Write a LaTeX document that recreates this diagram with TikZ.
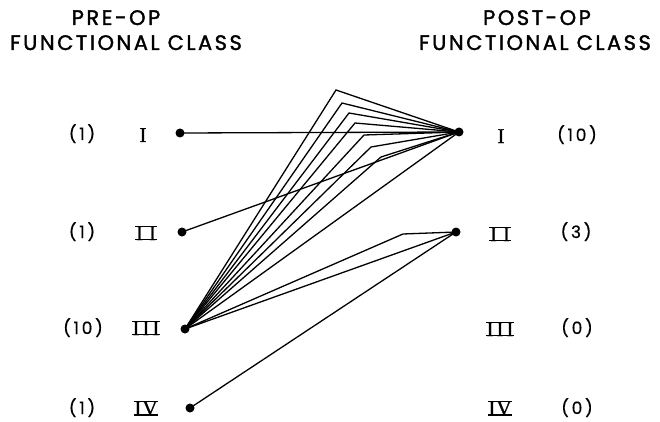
\documentclass[tikz,border=0pt]{standalone}
\usepackage{fontspec}
\setmainfont{Liberation Serif}
\newfontfamily\romfont{Liberation Serif}[FakeBold=1]
\newfontfamily\hdrfont{Poppins}[LetterSpace=12,FakeBold=1.6]
\newfontfamily\cntfont{Poppins}[LetterSpace=16,FakeBold=0.4]
\newcommand\romII{I\kern6pt I}
\newcommand\romIII{I\kern3pt I\kern3pt I}
\newcommand\romIV{I\kern1pt V}
\newcommand\rbars[1]{\draw[line width=1.4pt] ([xshift=-0.5pt,yshift=-0.7pt]#1.north west) -- ([xshift=0.5pt,yshift=-0.7pt]#1.north east);
  \draw[line width=1.4pt] ([xshift=-0.5pt,yshift=0.7pt]#1.south west) -- ([xshift=0.5pt,yshift=0.7pt]#1.south east);}
\begin{document}
\begin{tikzpicture}[x=1pt,y=-1pt,
  dot/.style={circle,fill=black,inner sep=0pt,minimum size=9pt},
  link/.style={line width=1.3pt,line join=miter},
  hd/.style={font=\hdrfont\fontsize{21}{22}\selectfont,anchor=base,inner sep=0pt},
  rom/.style={font=\romfont\fontsize{21}{21}\selectfont,anchor=base,inner sep=0pt},
  cnt/.style={font=\cntfont\fontsize{17}{17}\selectfont,anchor=base,inner sep=0pt}]
\useasboundingbox (0,0) rectangle (660,422);
% headers
\node[hd] (hpre) at (116,25) {PRE-OP};
\node[hd] (hfl) at (126,50) {FUNCTIONAL CLASS};
\node[hd] (hpost) at (537,25) {POST-OP};
\node[hd] (hfr) at (535,50) {FUNCTIONAL CLASS};
% left counts
\node[cnt] (cl1) at (82,140) {(1)};
\node[cnt] (cl2) at (82,238) {(1)};
\node[cnt] (cl3) at (83,334) {(10)};
\node[cnt] (cl4) at (82,414) {(1)};
% right counts
\node[cnt] (cr1) at (577,141) {(10)};
\node[cnt] (cr2) at (576,238) {(3)};
\node[cnt] (cr3) at (577,334) {(0)};
\node[cnt] (cr4) at (577,414) {(0)};
% left roman numerals
\node[rom] (rl1) at (143,142) {I};
\node[rom] (rl2) at (146,240) {\romII};
\node[rom] (rl3) at (146,335) {\romIII};
\node[rom] (rl4) at (146,415) {\romIV};
\rbars{rl2}\rbars{rl3}\rbars{rl4}
% right roman numerals
\node[rom] (rr1) at (501,143) {I};
\node[rom] (rr2) at (500,241) {\romII};
\node[rom] (rr3) at (500,336) {\romIII};
\node[rom] (rr4) at (500,415) {\romIV};
\rbars{rr2}\rbars{rr3}\rbars{rr4}
% dots
\node[dot] (L1) at (180,133) {};
\node[dot] (L2) at (182,232) {};
\node[dot] (L3) at (185,329) {};
\node[dot] (L4) at (190,408) {};
\node[dot] (R1) at (459,132) {};
\node[dot] (R2) at (456,232) {};
% bend points
\coordinate (b1) at (336,90);
\coordinate (b2) at (342,103);
\coordinate (b3) at (349,113);
\coordinate (b4) at (355,123);
\coordinate (b5) at (364,135);
\coordinate (b6) at (371,147);
\coordinate (b7) at (381,157);
\coordinate (b8) at (403,234);
% connectors
\draw[link] (L1.center) -- (R1.center);
\draw[link] (L2.center) -- (R1.center);
\foreach \b in {b1,b2,b3,b4,b5,b6,b7}{
  \draw[link] (L3.center) -- (\b) -- (R1.center);
}
\draw[link] (L3.center) -- (R1.center);
\draw[link] (L3.center) -- (b8) -- (R2.center);
\draw[link] (L3.center) -- (R2.center);
\draw[link] (L4.center) -- (R2.center);
\end{tikzpicture}
\end{document}
